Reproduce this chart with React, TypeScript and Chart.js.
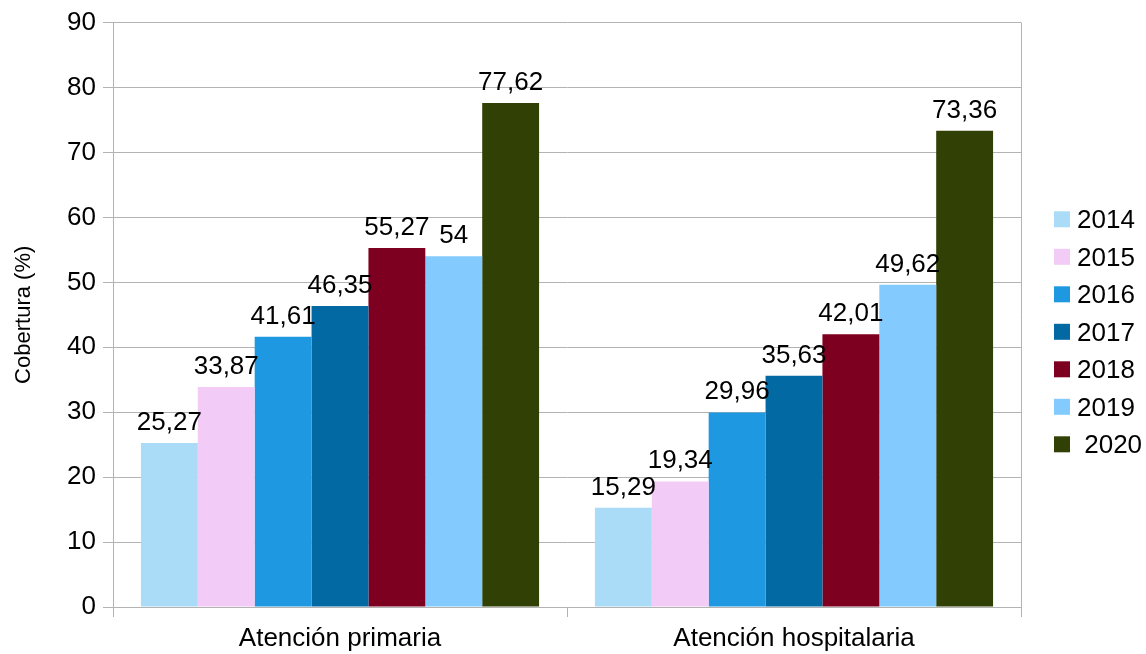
import React, { useEffect, useRef } from "react";
import { Chart, registerables } from "chart.js";

Chart.register(...registerables);

const categories = ["Atención primaria", "Atención hospitalaria"];
const seriesLabels = ["2014", "2015", "2016", "2017", "2018", "2019", " 2020"];
const values2014 = [25.27, 15.29];
const values2015 = [33.87, 19.34];
const values2016 = [41.61, 29.96];
const values2017 = [46.35, 35.63];
const values2018 = [55.27, 42.01];
const values2019 = [54, 49.62];
const values2020 = [77.62, 73.36];
const seriesColors = ["#aadcf7", "#f2cbf6", "#1e98e0", "#0369a3", "#7e0021", "#83caff", "#314004"];
const yTitle = "Cobertura (%)";

const FONT = "'Liberation Sans', Arial, sans-serif";
const GRID = "#b3b3b3";

const fmt = (v: number) => String(v).replace(".", ",");

const labelPlugin = {
  id: "valueLabels",
  afterDatasetsDraw(chart: any) {
    const ctx = chart.ctx;
    ctx.save();
    ctx.font = `26px ${FONT}`;
    ctx.fillStyle = "#000";
    ctx.textAlign = "center";
    ctx.textBaseline = "alphabetic";
    chart.data.datasets.forEach((ds: any, di: number) => {
      const meta = chart.getDatasetMeta(di);
      meta.data.forEach((bar: any, i: number) => {
        ctx.fillText(fmt(ds.data[i]), bar.x, bar.y - 13);
      });
    });
    ctx.restore();
  },
};

const legendPlugin = {
  id: "sideLegend",
  afterDraw(chart: any) {
    const ctx = chart.ctx;
    ctx.save();
    ctx.font = `26px ${FONT}`;
    ctx.textAlign = "left";
    ctx.textBaseline = "alphabetic";
    const n = chart.data.datasets.length;
    const step = 37.5;
    const mid = (chart.chartArea.top + chart.chartArea.bottom) / 2;
    const y0 = mid + 17 - (step * (n - 1)) / 2;
    chart.data.datasets.forEach((ds: any, di: number) => {
      const cy = y0 + di * step;
      ctx.fillStyle = ds.backgroundColor;
      ctx.fillRect(chart.chartArea.right + 33, cy - 8, 16, 16);
      ctx.fillStyle = "#000";
      ctx.fillText(ds.label, chart.chartArea.right + 56, cy + 9);
    });
    ctx.restore();
  },
};

export default function App() {
  const ref = useRef<HTMLCanvasElement | null>(null);
  useEffect(() => {
    document.body.style.margin = "0";
    const allValues = [values2014, values2015, values2016, values2017, values2018, values2019, values2020];
    const chart = new Chart(ref.current as HTMLCanvasElement, {
      type: "bar",
      data: {
        labels: categories,
        datasets: allValues.map((vals, i) => ({
          label: seriesLabels[i],
          data: vals,
          backgroundColor: seriesColors[i],
          borderWidth: 0,
          categoryPercentage: 0.877,
          barPercentage: 1,
        })),
      },
      options: {
        animation: false,
        responsive: false,
        devicePixelRatio: 1,
        layout: { padding: { top: 22, right: 125, left: 0, bottom: 0 } },
        plugins: { legend: { display: false }, tooltip: { enabled: false } },
        scales: {
          x: {
            afterFit: (s: any) => { s.height = 47; },
            grid: {
              offset: true,
              color: (c: any) => (c.index === 1 ? "rgba(0,0,0,0)" : GRID),
              tickColor: GRID,
              tickLength: 10,
              lineWidth: 1,
            },
            border: { color: GRID },
            ticks: { color: "#000", font: { family: FONT, size: 26 }, padding: 6 },
          },
          y: {
            min: 0,
            max: 90,
            afterFit: (s: any) => { s.width = 113; },
            ticks: { stepSize: 10, color: "#000", font: { family: FONT, size: 26 }, padding: 7 },
            grid: { color: GRID, tickColor: GRID, tickLength: 10 },
            border: { color: GRID },
            title: {
              display: true,
              text: yTitle,
              color: "#000",
              font: { family: FONT, size: 22 },
              padding: { top: 11, bottom: 0 },
            },
          },
        },
      },
      plugins: [labelPlugin, legendPlugin],
    });
    return () => chart.destroy();
  }, []);
  return (
    <div style={{ width: 1146, height: 654 }}>
      <canvas ref={ref} width={1146} height={654} />
    </div>
  );
}
